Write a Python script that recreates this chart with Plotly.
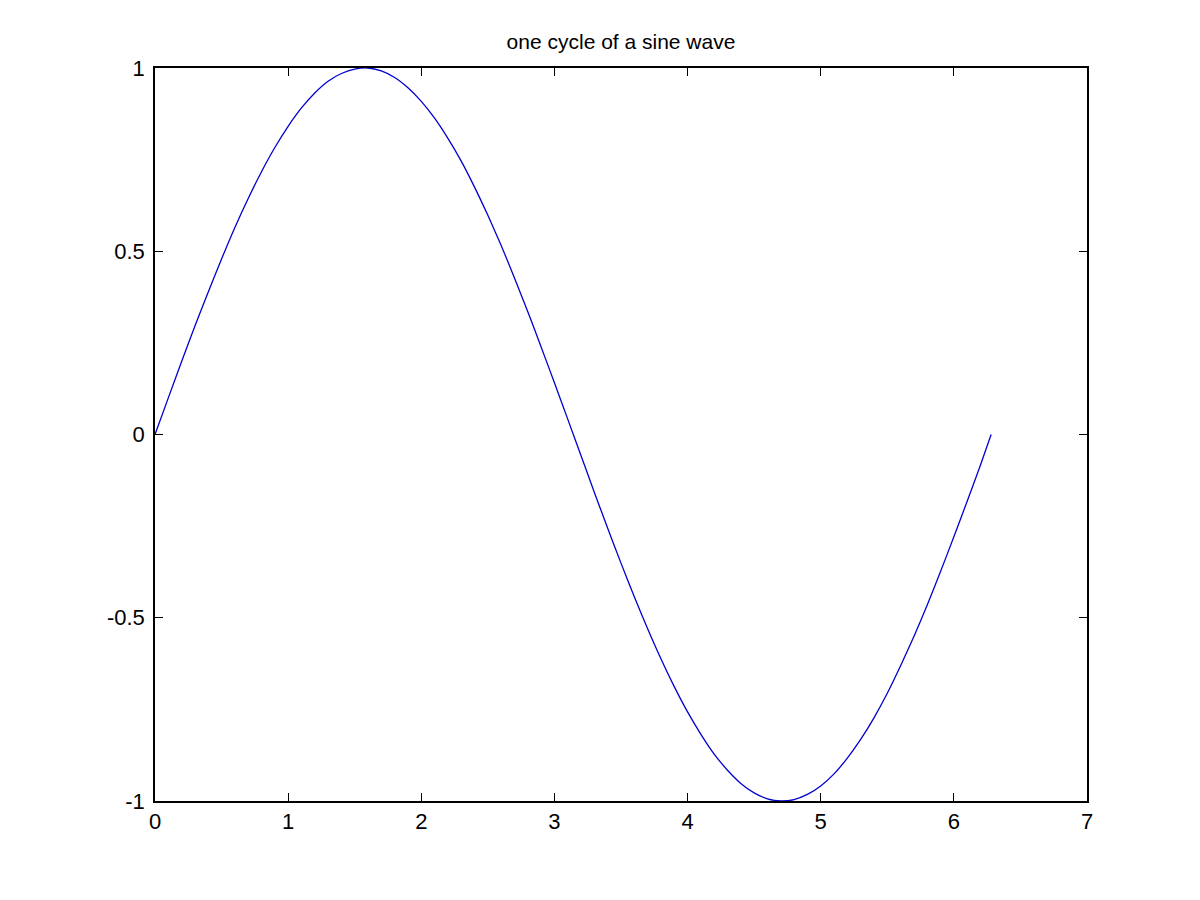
import plotly.graph_objects as go

# values
x_vals = [0.0, 0.1, 0.2, 0.3, 0.4, 0.5, 0.6, 0.7, 0.8, 0.9,
          1.0, 1.1, 1.2, 1.3, 1.4, 1.5, 1.6, 1.7, 1.8, 1.9,
          2.0, 2.1, 2.2, 2.3, 2.4, 2.5, 2.6, 2.7, 2.8, 2.9,
          3.0, 3.1, 3.2, 3.3, 3.4, 3.5, 3.6, 3.7, 3.8, 3.9,
          4.0, 4.1, 4.2, 4.3, 4.4, 4.5, 4.6, 4.7, 4.8, 4.9,
          5.0, 5.1, 5.2, 5.3, 5.4, 5.5, 5.6, 5.7, 5.8, 5.9,
          6.0, 6.1, 6.2, 6.28]
y_vals = [0.0, 0.100, 0.199, 0.296, 0.389, 0.479, 0.565, 0.644, 0.717, 0.783,
          0.841, 0.891, 0.932, 0.964, 0.985, 0.997, 1.000, 0.992, 0.974, 0.946,
          0.909, 0.863, 0.808, 0.746, 0.675, 0.598, 0.516, 0.427, 0.335, 0.239,
          0.141, 0.042, -0.058, -0.158, -0.256, -0.351, -0.443, -0.530, -0.612, -0.688,
          -0.757, -0.818, -0.872, -0.916, -0.952, -0.978, -0.994, -1.000, -0.996, -0.982,
          -0.959, -0.926, -0.883, -0.832, -0.773, -0.706, -0.631, -0.551, -0.465, -0.374,
          -0.279, -0.182, -0.083, 0.0]

x_ticks = [0, 1, 2, 3, 4, 5, 6, 7]
y_ticks = [-1, -0.5, 0, 0.5, 1]
y_tick_text = ["-1", "-0.5", "0", "0.5", "1"]

fig = go.Figure()

fig.add_trace(go.Scatter(
    x=x_vals,
    y=y_vals,
    mode="lines",
    line=dict(color="#0000d0", width=1.3, shape="spline", smoothing=0.6),
    showlegend=False,
))

axis_style = dict(
    showline=True,
    linecolor="#000000",
    linewidth=1.5,
    mirror="ticks",
    ticks="inside",
    ticklen=8,
    tickwidth=1,
    tickcolor="#000000",
    showgrid=False,
    zeroline=False,
    tickfont=dict(family="Liberation Sans, Arial, sans-serif", size=22, color="#000000"),
)

fig.update_xaxes(range=[0, 7], tickvals=x_ticks, **axis_style)
fig.update_yaxes(range=[-1, 1], tickvals=y_ticks, ticktext=y_tick_text, ticklabelstandoff=4, **axis_style)

fig.update_layout(
    title=dict(
        text="one cycle of a sine wave",
        x=(155 + 1087) / 2 / 1200 - 8 / 1200,
        xanchor="center",
        y=1 - 34 / 900,
        yanchor="middle",
        font=dict(family="Liberation Sans, Arial, sans-serif", size=21, color="#000000"),
    ),
    width=1200,
    height=900,
    margin=dict(l=147, r=121, t=60, b=107),
    plot_bgcolor="white",
    paper_bgcolor="white",
)

fig.write_html("out.html")
